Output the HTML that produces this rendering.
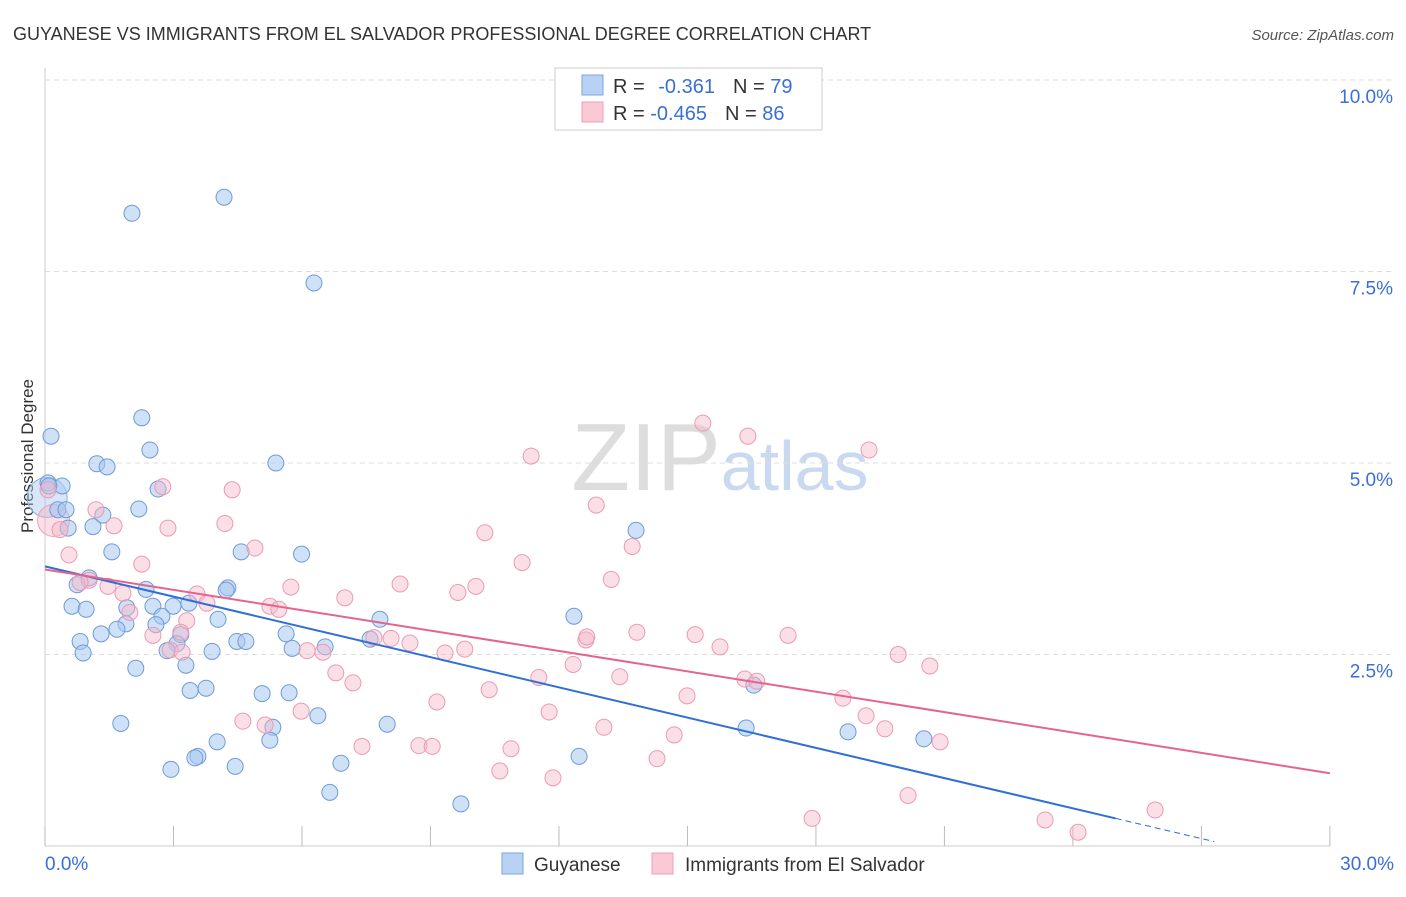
<!DOCTYPE html>
<html><head><meta charset="utf-8"><style>
body{margin:0;background:#fff;font-family:"Liberation Sans",sans-serif}
svg text{font-family:"Liberation Sans",sans-serif}
</style></head><body>
<svg id="chart" width="1406" height="892" xmlns="http://www.w3.org/2000/svg">
<text x="13" y="40" font-size="18" fill="#333">GUYANESE VS IMMIGRANTS FROM EL SALVADOR PROFESSIONAL DEGREE CORRELATION CHART</text>
<text x="1394" y="40" font-size="15" fill="#555" text-anchor="end" font-style="italic">Source: ZipAtlas.com</text>
<text transform="translate(33,456) rotate(-90)" font-size="17" fill="#333" text-anchor="middle">Professional Degree</text>
<text x="720" y="490" font-size="96" text-anchor="middle" fill="#ddd" font-family="Liberation Serif">ZIP<tspan fill="#c9d9f0" font-family="Liberation Sans" font-size="70">atlas</tspan></text>
<g id="grid"></g><g id="pts"></g><g id="lines"></g>
<g>
<rect x="555" y="68" width="267" height="62" fill="#fff" stroke="#ccc"/>
<rect x="582" y="75" width="21" height="20" fill="#b8d2f4" stroke="#7aa6e0"/>
<rect x="582" y="102" width="21" height="20" fill="#fbc8d6" stroke="#eea0b8"/>
<text x="613" y="93" font-size="20" fill="#333">R = <tspan fill="#3a6fd8" dx="8">-0.361</tspan><tspan dx="18" fill="#333">N = </tspan><tspan fill="#3a6fd8">79</tspan></text>
<text x="613" y="120" font-size="20" fill="#333">R = <tspan fill="#3a6fd8">-0.465</tspan><tspan dx="18" fill="#333">N = </tspan><tspan fill="#3a6fd8">86</tspan></text>
</g>
<g>
<rect x="502" y="853" width="21" height="21" fill="#b8d2f4" stroke="#7aa6e0"/>
<text x="534" y="871" font-size="19" fill="#333">Guyanese</text>
<rect x="652" y="853" width="21" height="21" fill="#fbc8d6" stroke="#eea0b8"/>
<text x="685" y="871" font-size="19" fill="#333">Immigrants from El Salvador</text>
</g>
</svg>
<script>
const xTicks=[0,3,6,9,12,15,18,21,24,27,30];
const yTicks=[2.5,5,7.5,10];
const blueX=[2.03,4.18,6.28,2.26,2.45,0.14,1.21,1.45,5.39,2.64,0.4,2.19,0.3,0.49,1.12,0.54,1.35,1.56,4.58,5.99,13.8,1.03,0.75,2.36,4.27,4.23,0.63,0.96,1.91,2.52,2.99,3.36,2.73,4.04,7.82,12.35,1.89,1.68,2.59,1.31,3.17,5.63,0.82,3.08,4.48,4.69,6.54,5.77,0.89,2.85,3.9,7.59,2.12,3.29,16.55,5.07,3.39,3.76,5.7,6.37,1.77,5.32,7.99,16.37,18.75,20.52,4.02,5.25,3.57,3.5,12.47,2.94,4.44,6.91,6.65,9.71,0.07,0.09];
const blueY=[8.26,8.47,7.35,5.59,5.17,5.35,4.99,4.95,5.0,4.66,4.7,4.4,4.39,4.39,4.17,4.15,4.32,3.84,3.84,3.81,4.12,3.5,3.41,3.35,3.37,3.34,3.13,3.09,3.11,3.13,3.13,3.17,3.0,2.96,2.96,3.0,2.9,2.83,2.89,2.77,2.76,2.77,2.67,2.64,2.67,2.67,2.6,2.58,2.52,2.55,2.54,2.7,2.32,2.36,2.1,1.99,2.03,2.06,2.0,1.7,1.6,1.55,1.59,1.54,1.49,1.4,1.36,1.38,1.17,1.15,1.17,1.0,1.04,1.08,0.7,0.55,4.74,4.7];
const pinkX=[15.36,16.41,19.24,11.35,2.75,4.37,0.07,1.19,12.87,1.61,2.87,4.2,10.27,0.35,13.71,4.9,0.56,2.26,11.14,8.29,13.22,10.06,5.74,1.03,0.82,1.47,3.55,1.82,9.64,7.0,3.78,5.25,5.46,1.98,3.31,3.17,2.52,7.68,8.08,12.63,12.65,13.82,15.18,17.35,8.52,9.34,9.8,6.12,6.49,15.76,19.92,20.66,12.33,6.79,7.19,11.53,13.42,16.34,16.62,10.37,14.99,18.63,9.15,19.17,11.77,4.62,5.14,5.98,19.61,13.05,14.69,20.9,7.4,8.73,9.04,10.88,14.29,10.62,11.86,20.15,17.91,25.92,23.35,24.12,2.92,3.2];
const pinkY=[5.52,5.35,5.17,5.09,4.69,4.65,4.65,4.39,4.45,4.18,4.15,4.21,4.09,4.13,3.91,3.89,3.8,3.68,3.7,3.42,3.48,3.39,3.38,3.47,3.44,3.39,3.29,3.3,3.31,3.24,3.17,3.13,3.09,3.05,2.94,2.79,2.75,2.72,2.71,2.69,2.73,2.79,2.76,2.75,2.65,2.52,2.57,2.55,2.53,2.6,2.5,2.35,2.37,2.26,2.13,2.2,2.21,2.18,2.15,2.04,1.96,1.93,1.88,1.7,1.75,1.63,1.58,1.76,1.53,1.55,1.45,1.36,1.3,1.31,1.3,1.27,1.14,0.98,0.89,0.66,0.36,0.47,0.34,0.18,2.56,2.53];
const blueLine=[[0,3.65],[25,0.36]];
const pinkLine=[[0,3.61],[30,0.95]];
const NS="http://www.w3.org/2000/svg";
const X=v=>45+v*42.83, Y=v=>846-v*76.6;
function el(t,a,p){const e=document.createElementNS(NS,t);for(const k in a)e.setAttribute(k,a[k]);p.appendChild(e);return e;}
const grid=document.getElementById('grid');
el('line',{x1:45,y1:68,x2:45,y2:846,stroke:'#ccc'},grid);
el('line',{x1:45,y1:846,x2:1330,y2:846,stroke:'#ccc'},grid);
xTicks.forEach(t=>{const l=el('line',{x1:X(t),y1:826,x2:X(t),y2:846,stroke:'#bbb'},grid);

});
yTicks.forEach(t=>{const l=el('line',{x1:45,y1:Y(t),x2:1394,y2:Y(t),stroke:'#ddd','stroke-dasharray':'5,4'},grid);


const tx=el('text',{x:1393,y:Y(t)+23,'font-size':19,fill:'#3a6fd8','text-anchor':'end'},grid);tx.textContent=t.toFixed(1)+'%';

});
const a=el('text',{x:45,y:870,'font-size':19,fill:'#3a6fd8'},grid);a.textContent='0.0%';


const b=el('text',{x:1394,y:870,'font-size':19,fill:'#3a6fd8','text-anchor':'end'},grid);b.textContent='30.0%';


const pts=document.getElementById('pts');
const bg=el('circle',{cx:X(0.05),cy:Y(4.55),r:20,fill:'rgba(168,200,240,0.45)',stroke:'#8ab0e0'},pts);


const pg=el('circle',{cx:X(0.2),cy:Y(4.25),r:16,fill:'rgba(247,184,200,0.45)',stroke:'#eea0b8'},pts);


blueX.forEach((v,i)=>{const c=el('circle',{cx:X(v),cy:Y(blueY[i]),r:8,fill:'rgba(168,200,240,0.55)',stroke:'#6e9bd8','stroke-width':1},pts);

});
pinkX.forEach((v,i)=>{const c=el('circle',{cx:X(v),cy:Y(pinkY[i]),r:8,fill:'rgba(247,184,200,0.45)',stroke:'#eb9ab4','stroke-width':1},pts);

});
const lines=document.getElementById('lines');
const bl=el('line',{x1:X(blueLine[0][0]),y1:Y(blueLine[0][1]),x2:X(blueLine[1][0]),y2:Y(blueLine[1][1]),stroke:'#2f6fd6','stroke-width':2},lines);


const slope=(blueLine[1][1]-blueLine[0][1])/(blueLine[1][0]-blueLine[0][0]);
const bd=el('line',{x1:X(blueLine[1][0]),y1:Y(blueLine[1][1]),x2:X(27.3),y2:Y(blueLine[1][1]+slope*2.3),stroke:'#2f6fd6','stroke-width':1,'stroke-dasharray':'6,4'},lines);


const pl=el('line',{x1:X(pinkLine[0][0]),y1:Y(pinkLine[0][1]),x2:X(pinkLine[1][0]),y2:Y(pinkLine[1][1]),stroke:'#e5648e','stroke-width':2},lines);


</script>
</body></html>
